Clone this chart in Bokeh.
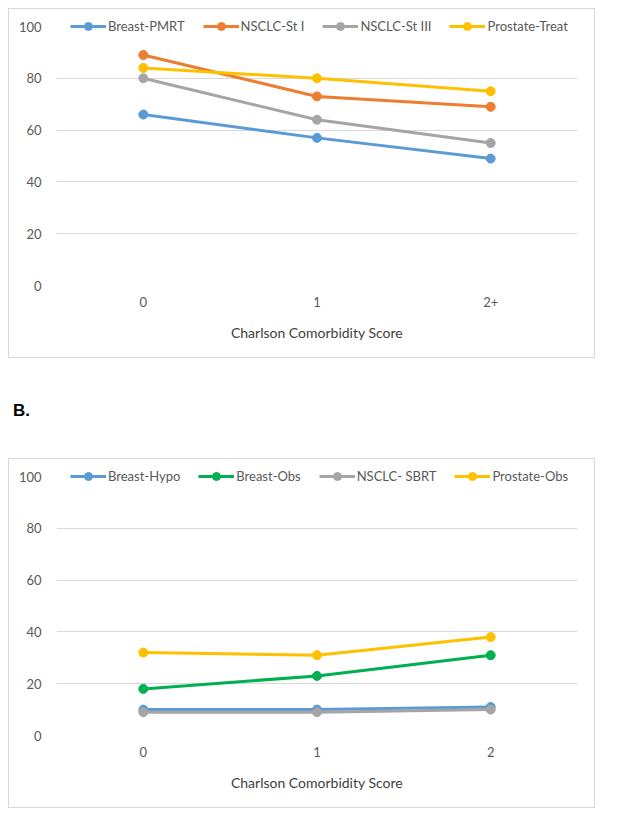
from bokeh.plotting import figure
from bokeh.models import FixedTicker, Div, Spacer
from bokeh.layouts import column, row
from bokeh.embed import file_html
from bokeh.resources import INLINE

# ---------------- data ----------------
categories_a = ["0", "1", "2+"]
names_a = ["Breast-PMRT", "NSCLC-St I", "NSCLC-St III", "Prostate-Treat"]
breast_pmrt = [66, 57, 49]
nsclc_st1 = [89, 73, 69]
nsclc_st3 = [80, 64, 55]
prostate_treat = [84, 80, 75]

categories_b = ["0", "1", "2"]
names_b = ["Breast-Hypo", "Breast-Obs", "NSCLC- SBRT", "Prostate-Obs"]
breast_hypo = [10, 10, 11]
breast_obs = [18, 23, 31]
nsclc_sbrt = [9, 9, 10]
prostate_obs = [32, 31, 38]

y_ticks = [0, 20, 40, 60, 80, 100]
grid_ticks = [0, 20, 40, 60, 80]
x_title = "Charlson Comorbidity Score"

colors_a = ["#5B9BD5", "#ED7D31", "#A5A5A5", "#FFC000"]
colors_b = ["#5B9BD5", "#00B050", "#A5A5A5", "#FFC000"]

FONT = "Lato"
TICK_COLOR = "#595959"

# frame: 6px top border, 74px bottom; 100 sits 11px below frame top
Y_END = 100 * 270 / 259


def make_panel(cats, names, series, colors):
    p = figure(x_range=cats, y_range=(0, Y_END), width=587, height=350,
               output_backend="svg", toolbar_location=None,
               min_border_left=47, min_border_right=19,
               min_border_top=6, min_border_bottom=74)
    p.styles = {"border": "1px solid #d9d9d9"}
    p.outline_line_color = None
    p.background_fill_color = "white"
    p.border_fill_color = "white"
    p.x_range.range_padding = 0

    for name, vals, c in zip(names, series, colors):
        p.line(x=cats, y=vals, line_width=3, line_color=c, legend_label=name)
        p.scatter(x=cats, y=vals, size=9, fill_color=c, line_color=c, legend_label=name)

    # y axis
    yax = p.yaxis[0]
    yax.ticker = FixedTicker(ticks=y_ticks)
    yax.axis_line_color = None
    yax.major_tick_line_color = None
    yax.minor_tick_line_color = None
    yax.major_tick_out = 0
    yax.major_tick_in = 0
    yax.major_label_standoff = 15
    yax.major_label_text_font = FONT
    yax.major_label_text_font_size = "13px"
    yax.major_label_text_color = TICK_COLOR

    # x axis
    xax = p.xaxis[0]
    xax.axis_line_color = None
    xax.major_tick_line_color = None
    xax.minor_tick_line_color = None
    xax.major_tick_out = 0
    xax.major_tick_in = 0
    xax.major_label_standoff = 11
    xax.major_label_text_font = FONT
    xax.major_label_text_font_size = "13px"
    xax.major_label_text_color = TICK_COLOR
    xax.axis_label = x_title
    xax.axis_label_standoff = 14
    xax.axis_label_text_font = FONT
    xax.axis_label_text_font_size = "14px"
    xax.axis_label_text_font_style = "normal"
    xax.axis_label_text_color = "#404040"

    # grids
    p.xgrid.grid_line_color = None
    p.ygrid.ticker = FixedTicker(ticks=grid_ticks)
    p.ygrid.grid_line_color = "#d9d9d9"
    p.ygrid.grid_line_width = 1

    # legend
    lg = p.legend[0]
    lg.orientation = "horizontal"
    lg.location = (14, 249)
    lg.label_text_font = FONT
    lg.label_text_font_size = "13px"
    lg.label_text_color = TICK_COLOR
    lg.glyph_width = 36
    lg.glyph_height = 20
    lg.label_height = 20
    lg.label_standoff = 2
    lg.spacing = 18
    lg.padding = 0
    lg.margin = 0
    lg.border_line_color = None
    lg.background_fill_color = "white"
    lg.background_fill_alpha = 1
    return p


p1 = make_panel(categories_a, names_a,
                [breast_pmrt, nsclc_st1, nsclc_st3, prostate_treat], colors_a)
label_b = Div(text='<div style="padding-top:38px;font-family:\'Liberation Sans\';'
                   'font-weight:bold;font-size:17px;line-height:20px;color:#000;">B.</div>',
              width=587, height=90)
p2 = make_panel(categories_b, names_b,
                [breast_hypo, breast_obs, nsclc_sbrt, prostate_obs], colors_b)

layout = row(Spacer(width=8, height=10),
             column(Spacer(width=10, height=8), p1, label_b, p2, spacing=0),
             spacing=0)

open("out.html", "w").write(file_html(layout, INLINE))
